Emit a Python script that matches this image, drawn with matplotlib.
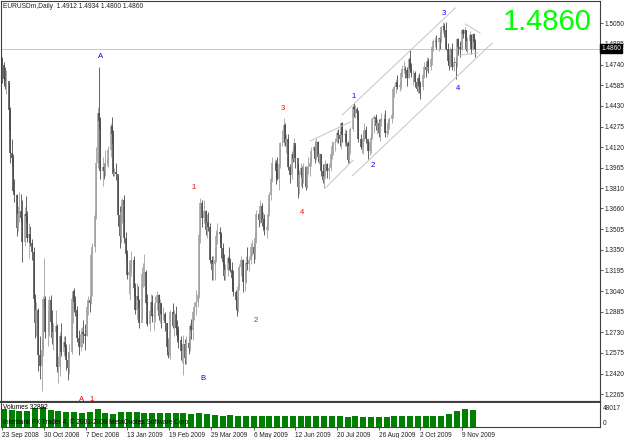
import numpy as np
import pandas as pd
import matplotlib
matplotlib.use('Agg')
import matplotlib.pyplot as plt

plt.rcParams['font.family'] = ['Liberation Sans', 'DejaVu Sans']

# EURUSDm daily, one row per week (Mon..Fri), 22 Sep 2008 - 20 Nov 2009
high = [
    1.4830, 1.4800, 1.4760, 1.4720, 1.4700,
    1.4600, 1.4420, 1.4180, 1.4070, 1.3880,
    1.3770, 1.3680, 1.3780, 1.3770, 1.3720,
    1.3670, 1.3750, 1.3640, 1.3550, 1.3530,
    1.3430, 1.3370, 1.3020, 1.2960, 1.2910,
    1.2700, 1.2680, 1.3000, 1.3290, 1.3000,
    1.2890, 1.3000, 1.3010, 1.2900, 1.2800,
    1.2900, 1.2790, 1.2550, 1.2730, 1.2800,
    1.2700, 1.2700, 1.2640, 1.2580, 1.2640,
    1.3020, 1.3050, 1.3060, 1.3000, 1.2930,
    1.2750, 1.2760, 1.2770, 1.2820, 1.2790,
    1.2950, 1.3000, 1.3000, 1.3330, 1.3400,
    1.3650, 1.4120, 1.4420, 1.4720, 1.4350,
    1.4050, 1.4000, 1.4100, 1.4020, 1.4130,
    1.4300, 1.4350, 1.4250, 1.3960, 1.4000,
    1.3900, 1.3680, 1.3690, 1.3740, 1.3760,
    1.3480, 1.3350, 1.3270, 1.3250, 1.3340,
    1.3300, 1.3100, 1.3100, 1.3080, 1.2980,
    1.3220, 1.3250, 1.3320, 1.3200, 1.3020,
    1.2920, 1.3020, 1.3010, 1.2920, 1.3000,
    1.3040, 1.3020, 1.2980, 1.2950, 1.2920,
    1.2880, 1.2800, 1.2680, 1.2730, 1.2900,
    1.2950, 1.2900, 1.2930, 1.2820, 1.2780,
    1.2700, 1.2640, 1.2710, 1.2680, 1.2700,
    1.2700, 1.2800, 1.2830, 1.2900, 1.2960,
    1.3050, 1.3030, 1.3480, 1.3740, 1.3720,
    1.3720, 1.3650, 1.3620, 1.3630, 1.3550,
    1.3300, 1.3300, 1.3360, 1.3500, 1.3550,
    1.3520, 1.3480, 1.3400, 1.3320, 1.3240,
    1.3300, 1.3370, 1.3290, 1.3260, 1.3200,
    1.3050, 1.3000, 1.3100, 1.3240, 1.3300,
    1.3280, 1.3200, 1.3300, 1.3370, 1.3300,
    1.3400, 1.3420, 1.3400, 1.3480, 1.3650,
    1.3650, 1.3720, 1.3700, 1.3630, 1.3620,
    1.3550, 1.3660, 1.3780, 1.3900, 1.4050,
    1.4030, 1.4020, 1.4050, 1.4000, 1.4160,
    1.4250, 1.4340, 1.4300, 1.4220, 1.4220,
    1.3990, 1.4090, 1.4120, 1.4190, 1.4140,
    1.4000, 1.3950, 1.4000, 1.3980, 1.4000,
    1.3980, 1.3980, 1.4050, 1.4050, 1.4120,
    1.4130, 1.4170, 1.4190, 1.4170, 1.4080,
    1.4070, 1.3990, 1.3960, 1.4020, 1.4000,
    1.4000, 1.4080, 1.4170, 1.4160, 1.4190,
    1.4250, 1.4260, 1.4240, 1.4300, 1.4310,
    1.4260, 1.4250, 1.4170, 1.4150, 1.4270,
    1.4440, 1.4450, 1.4440, 1.4420, 1.4400,
    1.4220, 1.4190, 1.4240, 1.4300, 1.4280,
    1.4170, 1.4170, 1.4230, 1.4350, 1.4360,
    1.4370, 1.4330, 1.4330, 1.4340, 1.4380,
    1.4370, 1.4400, 1.4300, 1.4330, 1.4350,
    1.4380, 1.4570, 1.4590, 1.4630, 1.4660,
    1.4620, 1.4690, 1.4740, 1.4770, 1.4730,
    1.4720, 1.4800, 1.4850, 1.4750, 1.4700,
    1.4690, 1.4640, 1.4660, 1.4680, 1.4620,
    1.4680, 1.4760, 1.4750, 1.4800, 1.4790,
    1.4790, 1.4880, 1.4930, 1.4950, 1.4960,
    1.4950, 1.4990, 1.5030, 1.5060, 1.5050,
    1.5060, 1.4900, 1.4810, 1.4870, 1.4900,
    1.4800, 1.4800, 1.4940, 1.4940, 1.4920,
    1.5010, 1.5010, 1.5020, 1.5000, 1.4950,
    1.4990, 1.4970, 1.4980, 1.4970, 1.4934,
]
low = [
    1.4450, 1.4600, 1.4580, 1.4560, 1.4520,
    1.4250, 1.4000, 1.3980, 1.3790, 1.3710,
    1.3450, 1.3490, 1.3560, 1.3560, 1.3260,
    1.3380, 1.3550, 1.3410, 1.3290, 1.3380,
    1.3270, 1.2960, 1.2690, 1.2700, 1.2440,
    1.2380, 1.2290, 1.2550, 1.2920, 1.2690,
    1.2630, 1.2700, 1.2790, 1.2640, 1.2600,
    1.2670, 1.2430, 1.2350, 1.2400, 1.2550,
    1.2550, 1.2560, 1.2450, 1.2370, 1.2420,
    1.2570, 1.2800, 1.2880, 1.2850, 1.2660,
    1.2560, 1.2590, 1.2620, 1.2650, 1.2600,
    1.2700, 1.2860, 1.2880, 1.2940, 1.3000,
    1.3330, 1.3580, 1.3960, 1.4260, 1.3880,
    1.3830, 1.3880, 1.3900, 1.3980, 1.3970,
    1.4050, 1.4150, 1.3900, 1.3900, 1.3870,
    1.3530, 1.3360, 1.3400, 1.3550, 1.3400,
    1.3280, 1.3130, 1.3020, 1.2970, 1.3150,
    1.3000, 1.2870, 1.2830, 1.2910, 1.2760,
    1.2830, 1.3070, 1.3080, 1.2940, 1.2780,
    1.2740, 1.2850, 1.2810, 1.2750, 1.2810,
    1.2900, 1.2820, 1.2800, 1.2760, 1.2820,
    1.2740, 1.2560, 1.2540, 1.2550, 1.2530,
    1.2760, 1.2700, 1.2710, 1.2660, 1.2610,
    1.2520, 1.2500, 1.2410, 1.2490, 1.2490,
    1.2570, 1.2590, 1.2680, 1.2670, 1.2820,
    1.2860, 1.2920, 1.2990, 1.3400, 1.3520,
    1.3550, 1.3460, 1.3440, 1.3490, 1.3250,
    1.3120, 1.3120, 1.3120, 1.3260, 1.3390,
    1.3400, 1.3290, 1.3230, 1.3120, 1.3120,
    1.3150, 1.3200, 1.3180, 1.3050, 1.3000,
    1.2900, 1.2850, 1.2880, 1.3050, 1.3150,
    1.3030, 1.3040, 1.3100, 1.3200, 1.3190,
    1.3240, 1.3300, 1.3250, 1.3280, 1.3400,
    1.3520, 1.3550, 1.3530, 1.3490, 1.3460,
    1.3440, 1.3500, 1.3600, 1.3720, 1.3860,
    1.3960, 1.3840, 1.3870, 1.3800, 1.3960,
    1.4130, 1.4140, 1.4130, 1.4080, 1.3950,
    1.3850, 1.3880, 1.4010, 1.4010, 1.3960,
    1.3740, 1.3770, 1.3830, 1.3810, 1.3850,
    1.3800, 1.3810, 1.3920, 1.3900, 1.3980,
    1.4040, 1.4000, 1.4020, 1.4010, 1.3990,
    1.3900, 1.3850, 1.3810, 1.3890, 1.3890,
    1.3880, 1.3940, 1.4030, 1.4060, 1.4090,
    1.4150, 1.4150, 1.4130, 1.4110, 1.4160,
    1.4130, 1.4130, 1.4000, 1.4000, 1.4070,
    1.4240, 1.4350, 1.4340, 1.4330, 1.4160,
    1.4110, 1.4080, 1.4070, 1.4170, 1.4150,
    1.4030, 1.4060, 1.4080, 1.4180, 1.4230,
    1.4250, 1.4220, 1.4200, 1.4170, 1.4280,
    1.4240, 1.4200, 1.4200, 1.4220, 1.4260,
    1.4300, 1.4340, 1.4500, 1.4530, 1.4560,
    1.4540, 1.4560, 1.4650, 1.4680, 1.4640,
    1.4580, 1.4640, 1.4690, 1.4650, 1.4590,
    1.4570, 1.4540, 1.4530, 1.4530, 1.4480,
    1.4550, 1.4640, 1.4650, 1.4690, 1.4680,
    1.4700, 1.4740, 1.4840, 1.4870, 1.4860,
    1.4840, 1.4860, 1.4910, 1.4980, 1.4950,
    1.4850, 1.4740, 1.4700, 1.4720, 1.4700,
    1.4690, 1.4630, 1.4720, 1.4810, 1.4800,
    1.4850, 1.4940, 1.4940, 1.4840, 1.4830,
    1.4900, 1.4820, 1.4850, 1.4860, 1.4800,
]
close = [
    1.4780, 1.4740, 1.4630, 1.4600, 1.4620,
    1.4400, 1.4080, 1.4040, 1.3790, 1.3760,
    1.3510, 1.3620, 1.3640, 1.3590, 1.3410,
    1.3620, 1.3600, 1.3440, 1.3470, 1.3400,
    1.3330, 1.2980, 1.2800, 1.2900, 1.2560,
    1.2480, 1.2600, 1.2980, 1.2980, 1.2730,
    1.2730, 1.2970, 1.2810, 1.2690, 1.2730,
    1.2780, 1.2470, 1.2470, 1.2700, 1.2580,
    1.2660, 1.2620, 1.2520, 1.2460, 1.2580,
    1.2980, 1.3040, 1.2960, 1.2900, 1.2690,
    1.2620, 1.2720, 1.2730, 1.2720, 1.2700,
    1.2920, 1.2970, 1.2950, 1.3310, 1.3370,
    1.3600, 1.4000, 1.4380, 1.4320, 1.3940,
    1.3970, 1.3940, 1.4000, 1.4000, 1.4100,
    1.4280, 1.4220, 1.3920, 1.3930, 1.3920,
    1.3610, 1.3450, 1.3630, 1.3720, 1.3440,
    1.3320, 1.3160, 1.3180, 1.3200, 1.3270,
    1.3060, 1.2900, 1.3000, 1.2970, 1.2800,
    1.3170, 1.3170, 1.3180, 1.2950, 1.2790,
    1.2890, 1.2960, 1.2850, 1.2860, 1.2950,
    1.3010, 1.2850, 1.2950, 1.2870, 1.2870,
    1.2800, 1.2620, 1.2580, 1.2690, 1.2880,
    1.2780, 1.2870, 1.2760, 1.2750, 1.2670,
    1.2590, 1.2590, 1.2640, 1.2540, 1.2650,
    1.2610, 1.2780, 1.2750, 1.2880, 1.2920,
    1.2960, 1.3010, 1.3460, 1.3700, 1.3590,
    1.3640, 1.3500, 1.3560, 1.3520, 1.3270,
    1.3200, 1.3240, 1.3270, 1.3450, 1.3480,
    1.3470, 1.3360, 1.3260, 1.3150, 1.3200,
    1.3290, 1.3250, 1.3200, 1.3140, 1.3030,
    1.2970, 1.2920, 1.3070, 1.3220, 1.3270,
    1.3110, 1.3110, 1.3250, 1.3240, 1.3270,
    1.3370, 1.3370, 1.3320, 1.3440, 1.3620,
    1.3570, 1.3680, 1.3550, 1.3580, 1.3500,
    1.3520, 1.3620, 1.3760, 1.3880, 1.4000,
    1.4000, 1.3940, 1.3880, 1.3990, 1.4150,
    1.4150, 1.4290, 1.4160, 1.4180, 1.3970,
    1.3910, 1.4070, 1.4030, 1.4150, 1.4040,
    1.3820, 1.3910, 1.3960, 1.3890, 1.3970,
    1.3820, 1.3970, 1.3970, 1.4000, 1.4090,
    1.4120, 1.4030, 1.4160, 1.4050, 1.4070,
    1.3940, 1.3870, 1.3900, 1.3990, 1.3940,
    1.3960, 1.4070, 1.4130, 1.4150, 1.4160,
    1.4230, 1.4210, 1.4180, 1.4300, 1.4210,
    1.4220, 1.4150, 1.4020, 1.4130, 1.4260,
    1.4420, 1.4410, 1.4410, 1.4380, 1.4180,
    1.4120, 1.4120, 1.4180, 1.4250, 1.4180,
    1.4090, 1.4160, 1.4190, 1.4330, 1.4350,
    1.4280, 1.4300, 1.4230, 1.4310, 1.4330,
    1.4330, 1.4230, 1.4240, 1.4300, 1.4330,
    1.4360, 1.4560, 1.4570, 1.4610, 1.4570,
    1.4590, 1.4680, 1.4710, 1.4710, 1.4700,
    1.4640, 1.4780, 1.4710, 1.4680, 1.4680,
    1.4610, 1.4560, 1.4640, 1.4580, 1.4570,
    1.4660, 1.4720, 1.4700, 1.4770, 1.4720,
    1.4780, 1.4870, 1.4920, 1.4920, 1.4910,
    1.4940, 1.4930, 1.5020, 1.5030, 1.5000,
    1.4860, 1.4770, 1.4730, 1.4860, 1.4720,
    1.4760, 1.4750, 1.4930, 1.4870, 1.4860,
    1.5000, 1.4970, 1.5000, 1.4860, 1.4920,
    1.4960, 1.4860, 1.4970, 1.4912, 1.4860,
]
first_open = 1.4500

# weekly volume level (ticks), one per week
vol_week = [39000, 38000, 36000, 35000, 41000, 44000, 37000, 35000, 33000, 32000,
            31000, 33000, 40000, 30000, 29000, 33000, 33000, 32000, 31000, 31000,
            30000, 30000, 30000, 30000, 29000, 30000, 28000, 27000, 25000, 26000,
            25000, 25000, 25000, 24000, 24000, 24000, 24000, 23000, 24000, 23000,
            23000, 23000, 23000, 23000, 22000, 23000, 22000, 22000, 22000, 22000,
            23000, 23000, 23000, 23000, 24000, 24000, 25000, 28000, 34000, 40000,
            37000]
vol_max = 48017
vol_last = 32892

date_ticks = ['2008-09-23', '2008-10-30', '2008-12-07', '2009-01-13', '2009-02-19',
              '2009-03-29', '2009-05-06', '2009-06-12', '2009-07-20', '2009-08-26',
              '2009-10-02', '2009-11-09']
date_labels = ['23 Sep 2008', '30 Oct 2008', '7 Dec 2008', '13 Jan 2009', '19 Feb 2009',
               '29 Mar 2009', '6 May 2009', '12 Jun 2009', '20 Jul 2009', '26 Aug 2009',
               '2 Oct 2009', '9 Nov 2009']
price_ticks = [1.5050, 1.4895, 1.4740, 1.4585, 1.4430, 1.4275, 1.4120, 1.3965, 1.3810,
               1.3660, 1.3505, 1.3350, 1.3195, 1.3040, 1.2885, 1.2730, 1.2575, 1.2420,
               1.2265]
last_price = 1.4860
header = 'EURUSDm,Daily  1.4912 1.4934 1.4800 1.4860'

# wave marks (text, bar position, price, colour)
waves = [('A', 76.2, 1.4797, 'blue'), ('A', 61.6, 1.2229, 'red'), ('1', 69.3, 1.2229, 'red'),
         ('B', 155.3, 1.2387, 'blue'), ('1', 147.6, 1.3814, 'red'), ('2', 195.2, 1.2816, 'red'),
         ('3', 215.9, 1.4414, 'red'), ('4', 231.2, 1.3626, 'red'), ('1', 270.4, 1.4497, 'blue'),
         ('2', 285.7, 1.3979, 'blue'), ('3', 340.2, 1.5127, 'blue'), ('4', 350.9, 1.4564, 'blue')]

# trend lines (pos0, price0, pos1, price1)
trendlines = [(261.9, 1.4362, 348.7, 1.5165), (269.6, 1.3904, 377.1, 1.4902),
              (237.4, 1.4166, 268.1, 1.4309), (248.9, 1.3813, 270.4, 1.4023),
              (356.3, 1.5045, 367.8, 1.4977), (352.5, 1.4812, 366.3, 1.4827)]

# bar positions: every calendar day except Saturday gets a slot (Sunday bars empty)
alldays = pd.date_range('2008-09-22', '2009-12-31', freq='D')
alldays = alldays[alldays.dayofweek != 5]
slot = {d: i for i, d in enumerate(alldays)}
tdays = pd.bdate_range('2008-09-22', '2009-11-20')
x = np.array([slot[d] for d in tdays])

high = np.array(high)
low = np.array(low)
close = np.array(close)
opn = np.concatenate([[first_open], close[:-1]])
opn[-1] = 1.4912
up = close >= opn

fig = plt.figure(figsize=(6.25, 4.38), dpi=100)
fig.patch.set_facecolor('white')
ax = fig.add_axes([0.0008, 1 - 402 / 438, 599.5 / 625, 401.5 / 438])
axv = fig.add_axes([0.0008, 1 - 427 / 438, 599.5 / 625, 24 / 438])

c_up, c_dn = '#a0a0a0', '#4a4a4a'
cols = np.where(up, c_up, c_dn)
ax.vlines(x, low, high, colors=cols, lw=0.6)
ax.vlines(x, np.minimum(opn, close), np.maximum(opn, close), colors=cols, lw=1.15)

ax.axhline(last_price, color='#c8c8c8', lw=0.7, zorder=0)

for p0, y0, p1, y1 in trendlines:
    ax.plot([p0, p1], [y0, y1], color='#c4c4c4', lw=0.7)

for t, p, y, c in waves:
    ax.text(p, y, t, color=c, fontsize=5.5, ha='center', va='center')

ax.text(0.004, 0.985, header, transform=ax.transAxes, fontsize=4.8, va='center', color='#202020')
ax.text(503 / 600, 1 - 29.5 / 401.5, '%.4f' % last_price, transform=ax.transAxes,
        fontsize=21, color='#00ff00', va='baseline', ha='left')

xl = (1 - 2 / 1.3031, 1 + 598 / 1.3031)
ax.set_xlim(xl)
ax.set_ylim(1.5050 - (402 - 23.3) / 1332, 1.5050 + (23.3 - 0.5) / 1332)
ax.yaxis.tick_right()
ax.set_yticks(price_ticks)
ax.set_yticklabels(['%.4f' % v for v in price_ticks])
ax.tick_params(axis='y', labelsize=4.7, length=2.5, width=0.5, pad=1, colors='#202020')
ax.set_xticks([])
for s in ax.spines.values():
    s.set_color('#404040')
    s.set_linewidth(0.8)
ax.spines['bottom'].set_linewidth(1.6)

# last price box
ax.text(1.002, last_price, '%.4f' % last_price, transform=ax.get_yaxis_transform(),
        fontsize=4.7, color='white', va='center', ha='left', zorder=5,
        bbox=dict(boxstyle='square,pad=0.15', fc='black', ec='black'))

# volume
wk_mon = x[::5]
axv.bar(wk_mon + 2, vol_week, width=4.6, color='#008000', align='center')
axv.set_xlim(xl)
axv.set_ylim(0, vol_max * 24 / 22)
axv.yaxis.tick_right()
axv.set_yticks([vol_max, 0])
axv.set_yticklabels([str(vol_max), '0'])
axv.tick_params(axis='y', labelsize=4.7, length=0, pad=2, colors='#202020')
axv.get_yticklabels()[0].set_va('top')
axv.get_yticklabels()[1].set_va('bottom')
axv.set_xticks([slot[pd.Timestamp(d)] for d in date_ticks])
axv.set_xticklabels(date_labels, ha='left')
axv.tick_params(axis='x', labelsize=4.7, length=2.5, width=0.5, pad=1, colors='#202020')
for s in axv.spines.values():
    s.set_color('#404040')
    s.set_linewidth(0.8)
axv.spines['top'].set_visible(False)
axv.text(0.004, 0.8, 'Volumes %d' % vol_last, transform=axv.transAxes, fontsize=4.7,
         va='center', color='black')
axv.text(0.004, 0.22, 'Interbank FX Trader 4, \u00a9 2001-2009 MetaQuotes Software Corp.',
         transform=axv.transAxes, fontsize=4.7, va='center', color='black')

fig.savefig('out.png', dpi=100)
